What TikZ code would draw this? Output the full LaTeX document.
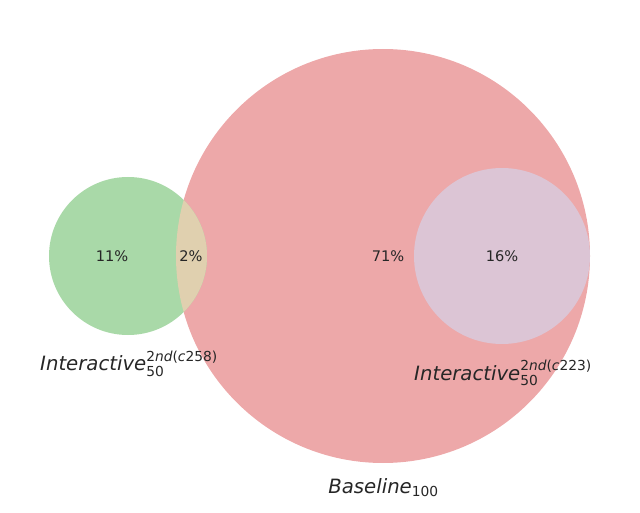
\documentclass[tikz,border=0pt]{standalone}
\usepackage{amsmath}
\usepackage{fontspec}
\setmainfont{DejaVu Sans}
\definecolor{vgreen}{HTML}{A9D9A8}
\definecolor{vred}{HTML}{EDA8A9}
\definecolor{vlilac}{HTML}{DCC5D5}
\definecolor{vmix}{HTML}{E0D0AF}
\definecolor{vtext}{HTML}{262626}
\tikzset{
  pct/.style={text=vtext, font=\fontsize{14.6}{16}\selectfont, inner sep=0pt},
  setlabel/.style={text=vtext, font=\fontsize{19.7}{23}\selectfont, inner sep=0pt, anchor=base}
}
\begin{document}
\begin{tikzpicture}[x=1pt,y=-1pt]
\useasboundingbox (0,0) rectangle (640,513);
\fill[vred] (383,256) circle (207);
\fill[vgreen] (128,256) circle (79);
\begin{scope}
  \clip (383,256) circle (207);
  \fill[vmix] (128,256) circle (79);
\end{scope}
\fill[vlilac] (502,256) circle (88);
\node[pct] (p11) at (112,256) {11\%};
\node[pct] (p2) at (191,256) {2\%};
\node[pct] (p71) at (388,256) {71\%};
\node[pct] (p16) at (502,256) {16\%};
\node[setlabel] (l1) at (129,370.5) {$\text{\itshape Interactive}^{\text{2\itshape nd\upshape(\itshape c\upshape 258)}}_{\text{50}}$};
\node[setlabel] (l2) at (503,380) {$\text{\itshape Interactive}^{\text{2\itshape nd\upshape(\itshape c\upshape 223)}}_{\text{50}}$};
\node[setlabel] (l3) at (383.5,493) {$\text{\itshape Baseline}_{\text{100}}$};
\end{tikzpicture}
\end{document}
